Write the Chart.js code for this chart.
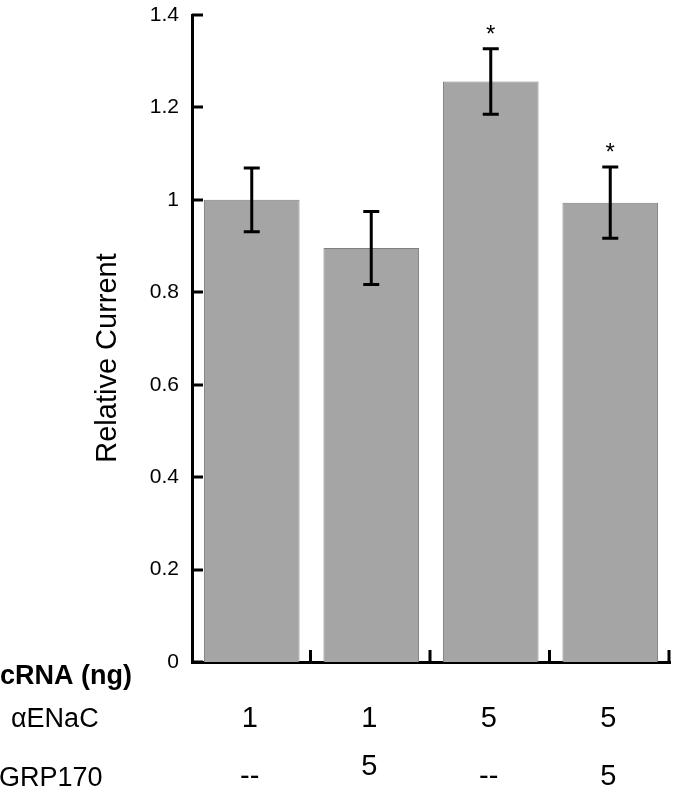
<!DOCTYPE html>
<html>
<head>
<meta charset="utf-8">
<script src="https://cdn.jsdelivr.net/npm/chart.js@4"></script>
<style>
    html, body { margin: 0; padding: 0; background: #fff; }
    canvas { display: block; }
</style>
</head>
<body>
<canvas id="currentChart" width="680" height="786"></canvas>
<script>
// === DATA ===
const conditions = ['1 / --', '1 / 5', '5 / --', '5 / 5'];
const relativeCurrent = [1.0, 0.896, 1.256, 0.994];
const errorValues = [0.069, 0.079, 0.071, 0.077];
const significant = [false, false, true, true];
const enacRow = ['1', '1', '5', '5'];
const grpRow = ['--', '5', '--', '5'];
const yTickLabels = ['0', '0.2', '0.4', '0.6', '0.8', '1', '1.2', '1.4'];

const FONT = "'Liberation Sans', Arial, sans-serif";

const annotatePlugin = {
    id: 'annotate',
    afterDraw: function(chart) {
        const ctx = chart.ctx;
        const x = chart.scales.x;
        const y = chart.scales.y;
        const area = chart.chartArea;
        const half = (area.right - area.left) / conditions.length / 2;

        ctx.save();
        ctx.strokeStyle = '#000';
        ctx.lineWidth = 3;
        ctx.lineCap = 'butt';

        // inward ticks on y axis
        y.ticks.forEach(function(t) {
            const py = Math.round(y.getPixelForValue(t.value));
            ctx.beginPath();
            ctx.moveTo(area.left, py);
            ctx.lineTo(area.left + 11, py);
            ctx.stroke();
        });

        // inward ticks on x axis, between categories
        conditions.forEach(function(c, i) {
            const px = x.getPixelForValue(i) + half - 1;
            ctx.beginPath();
            ctx.moveTo(px, area.bottom);
            ctx.lineTo(px, area.bottom - 12);
            ctx.stroke();
        });

        // error bars
        relativeCurrent.forEach(function(v, i) {
            const px = x.getPixelForValue(i);
            const top = y.getPixelForValue(v + errorValues[i]);
            const bot = y.getPixelForValue(v - errorValues[i]);
            ctx.beginPath();
            ctx.moveTo(px, top);
            ctx.lineTo(px, bot);
            ctx.moveTo(px - 8, top);
            ctx.lineTo(px + 8, top);
            ctx.moveTo(px - 8, bot);
            ctx.lineTo(px + 8, bot);
            ctx.stroke();

            if (significant[i]) {
                ctx.fillStyle = '#000';
                ctx.font = '24px ' + FONT;
                ctx.textAlign = 'center';
                ctx.textBaseline = 'alphabetic';
                ctx.fillText('*', px, top - 7);
            }
        });

        // y axis title
        ctx.save();
        ctx.translate(108, 358);
        ctx.rotate(-Math.PI / 2);
        ctx.fillStyle = '#000';
        ctx.font = '29px ' + FONT;
        ctx.textAlign = 'center';
        ctx.textBaseline = 'middle';
        ctx.fillText('Relative Current', 0, 0);
        ctx.restore();

        // table under the axis
        ctx.fillStyle = '#000';
        ctx.textBaseline = 'alphabetic';
        ctx.textAlign = 'left';
        ctx.font = 'bold 27px ' + FONT;
        ctx.fillText('cRNA (ng)', 0, 684);
        ctx.font = '27px ' + FONT;
        ctx.fillText('\u03B1ENaC', 11, 727);
        ctx.fillText('GRP170', -1, 786);

        ctx.textAlign = 'center';
        ctx.font = '29px ' + FONT;
        enacRow.forEach(function(t, i) {
            ctx.fillText(t, x.getPixelForValue(i) - 2, 727);
        });
        grpRow.forEach(function(t, i) {
            const base = (i === 1) ? 775 : 785;
            ctx.fillText(t, x.getPixelForValue(i) - 2, base);
        });
        ctx.restore();
    }
};

new Chart(document.getElementById('currentChart'), {
    type: 'bar',
    data: {
        labels: conditions,
        datasets: [{
            label: 'Relative Current',
            data: relativeCurrent,
            backgroundColor: '#a5a5a5',
            borderColor: '#7f7f7f',
            borderWidth: 1,
            barPercentage: 0.8,
            categoryPercentage: 1.0
        }]
    },
    options: {
        responsive: false,
        animation: false,
        layout: {
            padding: { top: 15, right: 10, left: 0, bottom: 0 }
        },
        plugins: {
            legend: { display: false },
            tooltip: { enabled: false }
        },
        scales: {
            x: {
                grid: { display: false },
                border: { color: '#000', width: 3 },
                ticks: { display: false },
                afterFit: function(scale) {
                    scale.height = 124;
                    scale.paddingLeft = 0;
                    scale.paddingRight = 0;
                }
            },
            y: {
                min: 0,
                max: 1.4,
                grid: { display: false, drawTicks: false },
                border: { color: '#000', width: 3 },
                ticks: {
                    stepSize: 0.2,
                    padding: 13,
                    color: '#000',
                    font: { family: FONT, size: 21 },
                    callback: function(value, index) { return yTickLabels[index]; }
                },
                afterFit: function(scale) {
                    scale.width = 192;
                    scale.paddingTop = 0;
                    scale.paddingBottom = 0;
                }
            }
        }
    },
    plugins: [annotatePlugin]
});
</script>
</body>
</html>
